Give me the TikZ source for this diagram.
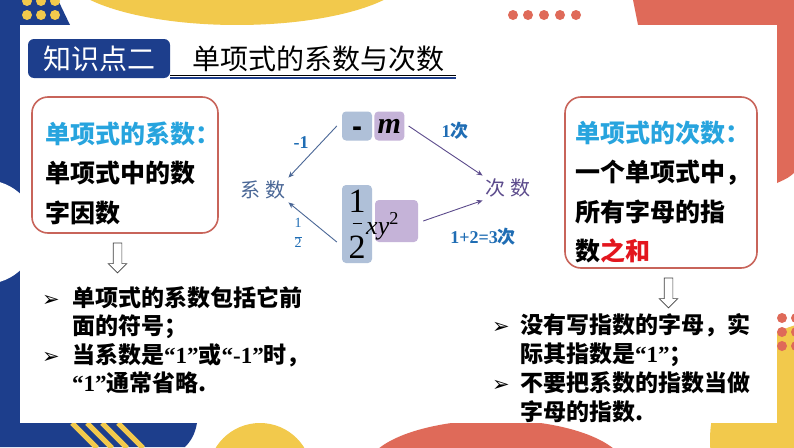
\documentclass[tikz,border=0pt]{standalone}
\usepackage{fontspec}
\setmainfont{Liberation Serif}
\newfontfamily\cjk{Noto Sans CJK SC}
\newfontfamily\symf{DejaVu Sans}
\newfontfamily\sansf{Liberation Sans}
\usetikzlibrary{positioning,shapes.arrows,arrows.meta,calc}
\definecolor{navyblue}{HTML}{1D3E8C}
\definecolor{sunyellow}{HTML}{F2C94C}
\definecolor{coral}{HTML}{DF6A59}
\definecolor{boxedge}{HTML}{C8645A}
\definecolor{skyblue}{HTML}{27A4DE}
\definecolor{labelblue}{HTML}{1F6DB4}
\definecolor{tileblue}{HTML}{AFC0D8}
\definecolor{tilelilac}{HTML}{C5B3D8}
\definecolor{coefgray}{HTML}{4A6796}
\definecolor{degpurple}{HTML}{5C4B8C}
\definecolor{hired}{HTML}{E3161E}
\newcommand\latn[1]{{\rmfamily\bfseries #1}}
\newcommand\bul[1][30pt]{\makebox[#1][l]{\symf\fontsize{21}{21}\selectfont ➢}}
\tikzset{
  titletag/.style={rectangle,rounded corners=6pt,fill=navyblue,text=white,
    minimum width=142pt,minimum height=39pt,inner sep=0pt,font=\cjk\fontsize{28}{28}\selectfont},
  titletext/.style={inner sep=0pt,font=\cjk\fontsize{28}{28}\selectfont},
  defbox/.style={rectangle,rounded corners=16pt,draw=boxedge,line width=1.6pt,fill=white},
  deftext/.style={align=left,inner sep=0pt,font=\cjk\bfseries\fontsize{25}{39.5}\selectfont},
  notes/.style={align=left,inner sep=0pt,anchor=north west,font=\cjk\bfseries\fontsize{23}{28.5}\selectfont},
  hollowdown/.style={single arrow,draw=black!75,fill=white,line width=0.7pt,rotate=-90,
    inner sep=4pt,minimum width=18pt,minimum height=30pt,single arrow head extend=5pt},
  tile/.style={rectangle,rounded corners=4pt,fill=#1,inner sep=0pt},
  termlabel/.style={inner sep=3pt,font=\cjk\fontsize{20}{20}\selectfont},
  steplabel/.style={inner sep=0pt,text=labelblue,font=\bfseries\fontsize{18}{18}\selectfont},
  linkarrow/.style={-{Stealth[length=6pt,width=5pt]},line width=0.9pt,#1},
}
\begin{document}
\begin{tikzpicture}[x=1pt,y=-1pt]
  \useasboundingbox (0,0) rectangle (794,447);
  \fill[white] (0,0) rectangle (794,447);
  % page decoration
  \fill[navyblue] (0,0) -- (58,0) -- (70,25) -- (20,25) -- (20,423) -- (197,423)
    .. controls (195,435) and (190,442) .. (185,447) -- (0,447) -- cycle;
  \fill[white] (-15,232) circle (52pt);
  \foreach \x in {27,41,55}
    \foreach \y in {1,15}
      \fill[sunyellow] (\x,\y) circle (5pt);
  \fill[sunyellow] (237,-30) ellipse [x radius=175pt,y radius=55pt];
  \fill[coral] (633,0) -- (794,0) -- (794,173) .. controls (788,178) .. (777,183)
    -- (777,25) -- (638,25) -- cycle;
  \foreach \x in {513,528,544,560,576}
    \fill[coral] (\x,15) circle (5pt);
  \foreach \x in {72,87,102,118}
    \draw[sunyellow,line width=5pt] (\x,423) -- (\x+25,448);
  \fill[sunyellow] (260,475) circle (52pt);
  \fill[coral] (496,470) ellipse [x radius=130pt,y radius=50pt];
  \fill[sunyellow] (830,440) circle (120pt);
  \foreach \x in {782,796}
    \foreach \y in {318,332,346}
      \fill[coral] (\x,\y) circle (5pt);
  \fill[white] (20,25) rectangle (777,423);

  % title
  \node[titletag] (tag) at (99,58.5) {知识点二};
  \node[titletext,right=22pt of tag] (title) {单项式的系数与次数};
  \coordinate (ulend) at (456,77);
  \draw[navyblue,line width=2.4pt] (tag.south east) -- (tag.south east -| ulend);
  \draw[black,line width=0.7pt] ($(tag.south east)+(0,-2.8)$) -- ($(tag.south east -| ulend)+(0,-2.8)$);

  % definitions
  \node[defbox,minimum width=186pt,minimum height=136pt] (coefbox) at (125,165) {};
  \node[deftext,text width=172pt,xshift=6pt,yshift=-8pt] (coeftext) at (coefbox)
    {\textcolor{skyblue}{单项式的系数：}\\单项式中的数\\字因数};
  \node[defbox,minimum width=192pt,minimum height=171pt] (degbox) at (661,182.5) {};
  \node[deftext,text width=180pt,xshift=4pt,yshift=-9.5pt] (degtext) at (degbox)
    {\textcolor{skyblue}{单项式的次数：}\\一个单项式中，\\所有字母的指\\数\textcolor{hired}{之和}};
  \node[hollowdown] (coefdown) at ($(coefbox.south)+(-7.5,22)$) {};
  \node[hollowdown] (degdown) at ($(degbox.south)+(7.5,22)$) {};

  % notes
  \node[notes] (coefnotes) at (42,286)
    {\bul 单项式的系数包括它前\\
     \hspace*{30pt}面的符号；\\
     \bul 当系数是\latn{“1”}或\latn{“-1”}时，\\
     \hspace*{30pt}\latn{“1”}通常省略.};
  \node[notes,font=\cjk\bfseries\fontsize{23}{29}\selectfont] (degnotes) at (492,313)
    {\bul[28pt]没有写指数的字母，实\\
     \hspace*{28pt}际其指数是\latn{“1”}；\\
     \bul[28pt]不要把系数的指数当做\\
     \hspace*{28pt}字母的指数.};

  % example monomials
  \node[tile=tileblue,minimum width=30pt,minimum height=29pt] (neg) at (357,126)
    {\sansf\bfseries\fontsize{30}{30}\selectfont\smash{\raisebox{-10pt}{-}}};
  \node[tile=tilelilac,minimum width=30pt,minimum height=29pt,right=2pt of neg] (mvar)
    {\bfseries\itshape\fontsize{30}{30}\selectfont m};
  \node[tile=tileblue,minimum width=30pt,minimum height=78pt] (half) at (357,224) {};
  \node[tile=tilelilac,minimum width=43pt,minimum height=42pt] (xysq) at (396.5,221) {};
  \node[inner sep=0pt,align=center,font=\fontsize{34}{22}\selectfont] (halftext) at (357,224.5)
    {1\\\rule[11pt]{9pt}{0.8pt}\\2};
  \node[inner sep=0pt,anchor=base west,font=\itshape\fontsize{26}{26}\selectfont] (xytext) at (366,234)
    {xy\textsuperscript{\upshape 2}};

  \node[termlabel,text=coefgray] (coef) at (263,190) {系 数};
  \node[termlabel,text=degpurple] (deg) at (508,188) {次 数};

  \draw[linkarrow=coefgray] ([xshift=-5pt]neg.west) -- (coef.north east);
  \draw[linkarrow=coefgray] ([xshift=-5pt,yshift=-18pt]half.west) -- (coef.south east);
  \draw[linkarrow=degpurple] ([xshift=4pt]mvar.east) -- (deg.north west);
  \draw[linkarrow=degpurple] ([xshift=5pt]xysq.east) -- (deg.south west);

  \node[steplabel] (minusone) at (301,143) {-1};
  \node[steplabel] (onedeg) at (455,131) {1{\cjk 次}};
  \node[inner sep=0pt,align=center,text=labelblue,font=\fontsize{14}{14}\selectfont] (halfcoef) at (298,233)
    {1\\[-4pt]\rule{7pt}{0.6pt}\\[-4pt]2};
  \node[steplabel] (sumdeg) at (483,237) {1+2=3{\cjk 次}};
\end{tikzpicture}
\end{document}
